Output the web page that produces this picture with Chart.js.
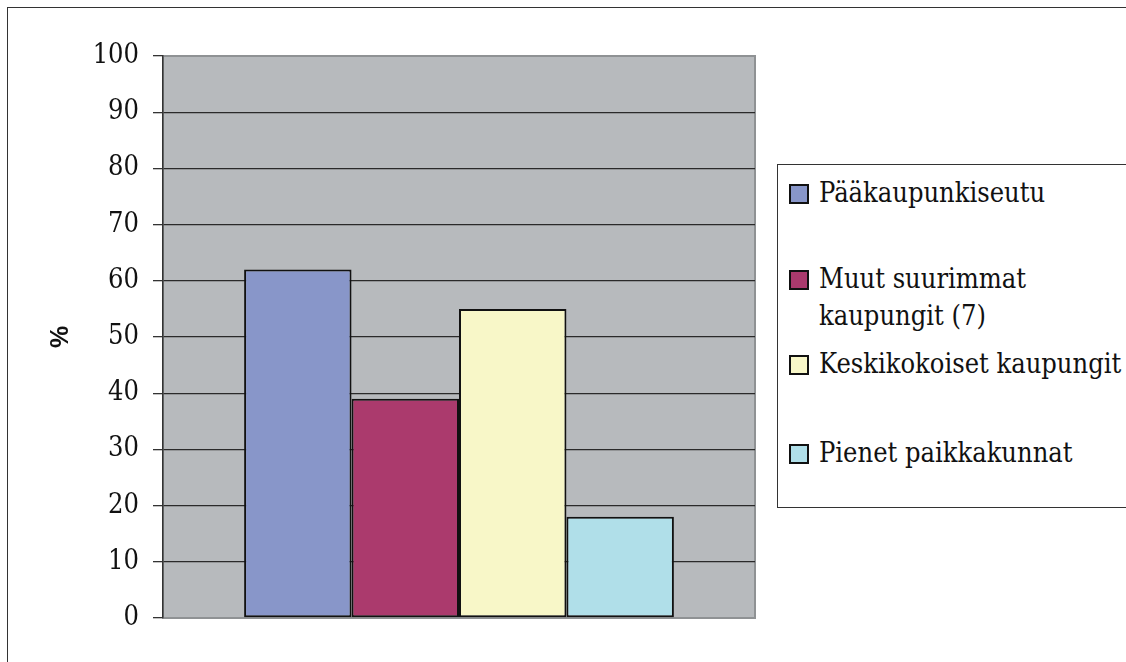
<!DOCTYPE html>
<html>
<head>
<meta charset="utf-8">
<script src="https://cdn.jsdelivr.net/npm/chart.js@4.4.0/dist/chart.umd.min.js"></script>
<style>
  html, body { margin: 0; padding: 0; background: #fff; overflow: hidden; }
  #wrap { position: relative; width: 1126px; height: 662px; }
  #frame { position: absolute; left: 7px; top: 7px; width: 1140px; height: 680px; border: 1.5px solid #333; box-sizing: border-box; }
  #chartBox { position: absolute; left: 0; top: 0; width: 1126px; height: 662px; }
  #legend { position: absolute; left: 777px; top: 164px; width: 380px; height: 344px; border: 1px solid #333; box-sizing: border-box; background: #fff; }
  .item { position: absolute; left: 11px; font-family: "DejaVu Serif Condensed", "DejaVu Serif", serif; font-size: 27px; line-height: 37px; color: #111; }
  .sw { position: absolute; left: 0; top: 10px; width: 16px; height: 16px; border: 2px solid #111; }
  .txt { position: absolute; left: 30px; top: 0; width: 306px; }
</style>
</head>
<body>
<div id="wrap">
  <div id="frame"></div>
  <div id="chartBox"><canvas id="barChart"></canvas></div>
  <div id="legend"></div>
</div>
<script>
// Data
const seriesNames = ['Pääkaupunkiseutu', 'Muut suurimmat kaupungit (7)', 'Keskikokoiset kaupungit', 'Pienet paikkakunnat'];
const seriesValues = [62, 39, 55, 18];
const seriesColors = ['#8896C9', '#AB3A6D', '#F8F7C8', '#B0DFE9'];
const categories = [''];
const yTicks = [0, 10, 20, 30, 40, 50, 60, 70, 80, 90, 100];

const serifFont = '"DejaVu Serif Condensed", "DejaVu Serif", serif';

// gray plot background + light border round the plot area
const plotBackground = {
  id: 'plotBackground',
  beforeDraw(chart) {
    const a = chart.chartArea;
    const ctx = chart.ctx;
    ctx.save();
    ctx.fillStyle = '#B7BABD';
    ctx.fillRect(a.left, a.top, a.right - a.left, a.bottom - a.top);
    ctx.strokeStyle = '#8f9294';
    ctx.lineWidth = 2;
    ctx.strokeRect(a.left, a.top, a.right - a.left, a.bottom - a.top);
    ctx.restore();
  }
};

function buildLegend() {
  const legend = document.getElementById('legend');
  const tops = [9, 95, 180, 269];
  seriesNames.forEach((name, i) => {
    const item = document.createElement('div');
    item.className = 'item';
    item.style.top = tops[i] + 'px';
    item.innerHTML = '<div class="sw" style="background:' + seriesColors[i] + '"></div><div class="txt"></div>';
    item.querySelector('.txt').textContent = name;
    legend.appendChild(item);
  });
}

function createChart() {
  const ctx = document.getElementById('barChart').getContext('2d');

  new Chart(ctx, {
    type: 'bar',
    data: {
      labels: categories,
      datasets: seriesNames.map((name, i) => ({
        label: name,
        data: [seriesValues[i]],
        backgroundColor: seriesColors[i],
        borderColor: '#111',
        borderWidth: 2,
        borderSkipped: false,
        categoryPercentage: 0.726,
        barPercentage: 1.0
      }))
    },
    options: {
      responsive: true,
      maintainAspectRatio: false,
      animation: false,
      layout: {
        padding: { left: 0, right: 371, top: 56, bottom: 44 }
      },
      plugins: {
        legend: { display: false },
        tooltip: { enabled: false }
      },
      scales: {
        x: {
          display: false
        },
        y: {
          min: 0,
          max: 100,
          afterBuildTicks: (scale) => {
            scale.ticks = yTicks.map(v => ({ value: v }));
          },
          afterFit: (scale) => {
            scale.width = 163;
          },
          ticks: {
            color: '#111',
            padding: 14,
            font: { family: serifFont, size: 27 }
          },
          grid: {
            color: (c) => (c.tick && (c.tick.value === 0 || c.tick.value === 100)) ? '#8f9294' : '#2a2a2a',
            tickColor: '#333',
            tickLength: 10,
            lineWidth: 1.3
          },
          border: { display: true, color: '#333', width: 1.5 },
          title: {
            display: true,
            text: '%',
            color: '#111',
            padding: { top: 46, bottom: 0 },
            font: { family: '"Liberation Sans", Arial, sans-serif', size: 25, weight: 'bold' }
          }
        }
      }
    },
    plugins: [plotBackground]
  });
}

buildLegend();
createChart();
</script>
</body>
</html>
